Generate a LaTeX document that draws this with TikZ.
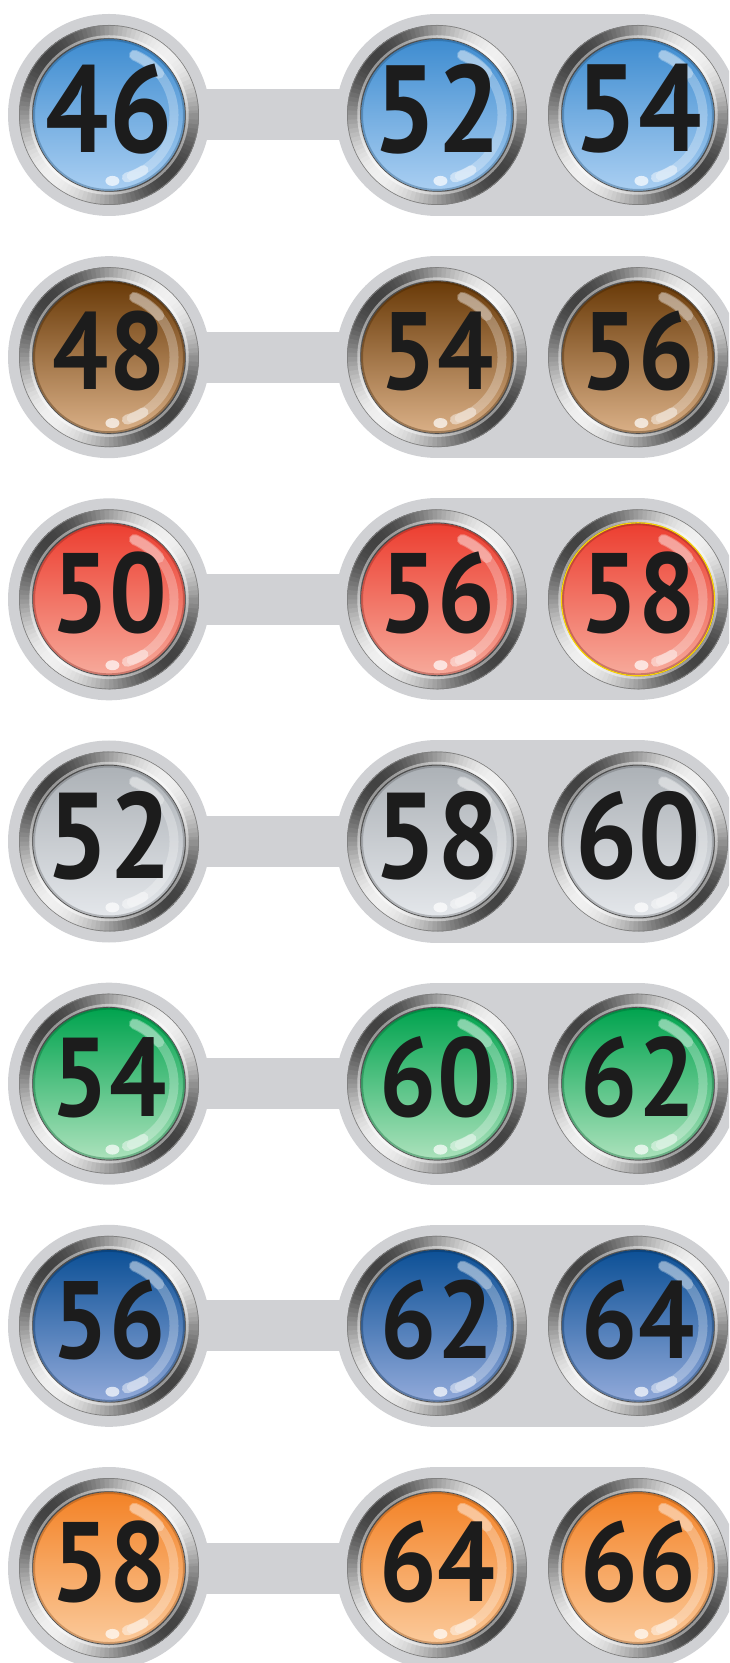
\documentclass[tikz,border=0pt]{standalone}
\usepackage{fontspec}
\setmainfont{PT Sans}
\definecolor{pillgray}{RGB}{208,209,212}
\definecolor{txt}{RGB}{28,28,28}
\definecolor{blT}{RGB}{62,140,208}\definecolor{blB}{RGB}{170,207,242}
\definecolor{brT}{RGB}{105,58,8}\definecolor{brB}{RGB}{218,176,135}
\definecolor{rdT}{RGB}{236,62,48}\definecolor{rdB}{RGB}{247,170,155}
\definecolor{svT}{RGB}{172,177,182}\definecolor{svB}{RGB}{228,231,235}
\definecolor{grT}{RGB}{0,163,78}\definecolor{grB}{RGB}{172,226,188}
\definecolor{nvT}{RGB}{12,80,150}\definecolor{nvB}{RGB}{146,170,218}
\definecolor{orT}{RGB}{243,130,38}\definecolor{orB}{RGB}{251,202,155}
\tikzset{
  connbar/.style={draw=pillgray, line width=51pt},
  pillband/.style={draw=pillgray, line width=202pt, line cap=round},
  numtext/.style={inner sep=0pt, text=txt, xscale=0.9},
  hilite/.style={draw=white, line cap=round},
}
\newcommand\glassbtn[6]{% name, coord, top, bottom, text, size
  \begin{scope}[shift={(#2)}]
    \foreach \a in {0,3,...,357}{%
      \pgfmathsetmacro\br{60+34*cos(2*(\a-45))}%
      \fill[white!\br!black] (0pt,0pt) -- (\a:90pt) arc[start angle=\a, delta angle=4.2, radius=90pt] -- cycle;}
    \draw[black!50, line width=0.7pt] (0pt,0pt) circle[radius=89.6pt];
    \draw[white, opacity=0.45, line width=2.5pt] (0pt,0pt) circle[radius=78.5pt];
    \shade[top color=#3, middle color=#3!85!#4, bottom color=#4] (0pt,0pt) circle[radius=76pt];
    \draw[#3!55!black, opacity=0.35, line width=2pt] (0pt,0pt) circle[radius=75pt];
    \draw[black!70, line width=0.7pt] (0pt,0pt) circle[radius=76.3pt];
    \draw[hilite, opacity=0.28, line width=9pt] (67:65pt) arc[start angle=67, end angle=-70, radius=65pt];
    \draw[hilite, opacity=0.30, line width=11pt] (67:65pt) arc[start angle=67, end angle=40, radius=65pt];
    \draw[hilite, opacity=0.45, line width=10pt] (-58:65pt) arc[start angle=-58, end angle=-74, radius=65pt];
    \fill[white, opacity=0.7] (-87:66pt) ellipse[x radius=7pt, y radius=5pt];
    \node[numtext, font=\fontsize{#6pt}{#6pt}\selectfont\bfseries] (#1) at (0pt,6pt) {#5};
  \end{scope}}
\newcommand\buttonrow[7]{% row, top, bottom, n1, n2, n3, size
  \pgfmathsetmacro\Y{1548-242.17*(#1-1)}
  \coordinate (p#1a) at (109,\Y);
  \coordinate (p#1b) at (437,\Y);
  \coordinate (p#1c) at (638,\Y);
  \draw[connbar] (p#1a) -- (p#1b);
  \fill[pillgray] (p#1a) circle[radius=101pt];
  \draw[pillband] (p#1b) -- (p#1c);
  \glassbtn{n#1a}{p#1a}{#2}{#3}{#4}{#7}
  \glassbtn{n#1b}{p#1b}{#2}{#3}{#5}{#7}
  \glassbtn{n#1c}{p#1c}{#2}{#3}{#6}{#7}
}
\begin{document}
\begin{tikzpicture}[x=1pt,y=1pt]
  \useasboundingbox (0,0) rectangle (729,1663);
  \clip (0,0) rectangle (729,1663);
  \buttonrow{1}{blT}{blB}{46}{52}{54}{124}
  \buttonrow{2}{brT}{brB}{48}{54}{56}{110}
  \buttonrow{3}{rdT}{rdB}{50}{56}{58}{113}
  \draw[yellow!70!orange, line width=1.2pt] (p3c) circle[radius=76.5pt];
  \buttonrow{4}{svT}{svB}{52}{58}{60}{122}
  \buttonrow{5}{grT}{grB}{54}{60}{62}{112}
  \buttonrow{6}{nvT}{nvB}{56}{62}{64}{110}
  \buttonrow{7}{orT}{orB}{58}{64}{66}{113}
\end{tikzpicture}
\end{document}
